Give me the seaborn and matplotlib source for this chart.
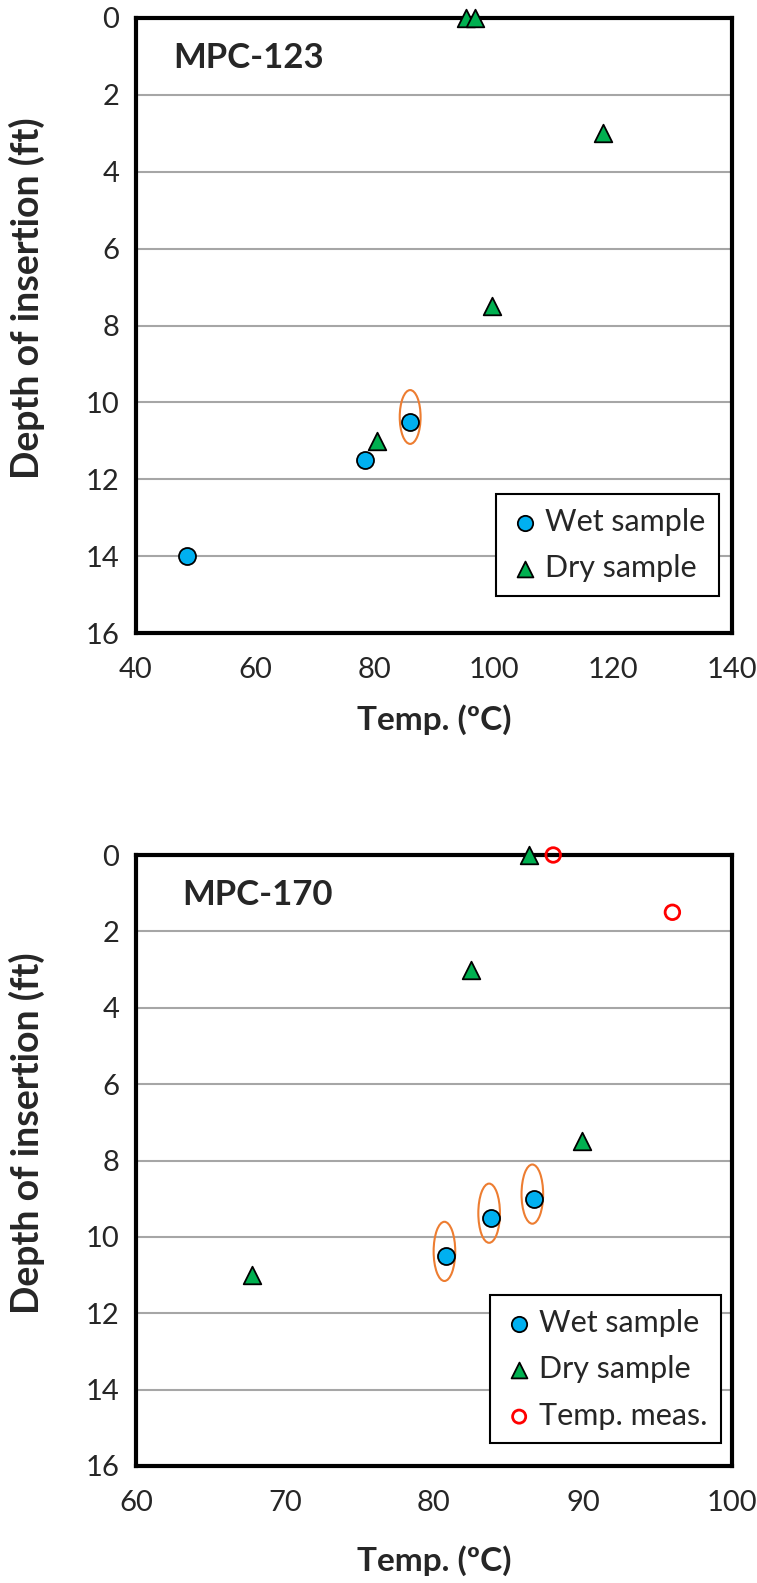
import matplotlib
matplotlib.use("Agg")
import matplotlib.pyplot as plt
from matplotlib.patches import Ellipse
import seaborn as sns
import pandas as pd

# ---- data ----
t1_wet_temp = [48.5, 78.5, 86.0]
t1_wet_depth = [14.0, 11.5, 10.5]
t1_dry_temp = [95.3, 96.8, 118.3, 99.8, 80.5]
t1_dry_depth = [0.0, 0.0, 3.0, 7.5, 11.0]
t1_circled = [2]  # index of circled wet points

t2_wet_temp = [80.8, 83.8, 86.7]
t2_wet_depth = [10.5, 9.5, 9.0]
t2_dry_temp = [86.4, 82.5, 89.9, 67.8]
t2_dry_depth = [0.0, 3.0, 7.5, 11.0]
t2_meas_temp = [88.0, 96.0]
t2_meas_depth = [0.0, 1.5]
t2_circled = [0, 1, 2]

titles = ["MPC-123", "MPC-170"]
xlims = [(40, 140), (60, 100)]
xticks = [[40, 60, 80, 100, 120, 140], [60, 70, 80, 90, 100]]
yticks = [0, 2, 4, 6, 8, 10, 12, 14, 16]

sns.set_theme(style="white")
plt.rcParams['font.family'] = ['Lato', 'DejaVu Sans']

W, H = 757, 1583
fig = plt.figure(figsize=(W / 100, H / 100), dpi=100)
ax1 = fig.add_axes([136 / W, 1 - 633 / H, 596 / W, 615 / H])
ax2 = fig.add_axes([136 / W, 1 - 1466 / H, 596 / W, 611 / H])

blue = "#00B0F0"
green = "#00B050"
orange = "#ED7D31"

title_pos = [(0.062, 0.935), (0.078, 0.935)]
xlabel_y = [-0.115, -0.13]
legend_anchor = [(0.978, 0.06), (0.982, 0.037)]
ellipse_size = [(3.5, 1.4), (1.45, 1.55)]

def style(ax, i):
    ax.set_xlim(*xlims[i])
    ax.set_ylim(16, 0)
    ax.set_xticks(xticks[i])
    ax.set_yticks(yticks)
    ax.grid(False)
    for y in yticks[1:-1]:
        ax.axhline(y, color="#a6a6a6", lw=1.5, zorder=0)
    for s in ax.spines.values():
        s.set_color("black")
        s.set_linewidth(3)
    ax.tick_params(axis="both", direction="in", length=7, width=2.5,
                   labelsize=21, color="black", pad=12)
    ax.tick_params(axis="x", pad=17)
    ax.set_xlabel("Temp. (ºC)", fontsize=24, fontweight="bold")
    ax.set_ylabel("Depth of insertion (ft)", fontsize=27, fontweight="bold")
    ax.xaxis.set_label_coords(0.5, xlabel_y[i])
    ax.yaxis.set_label_coords(-0.153, 0.545)
    ax.text(title_pos[i][0], title_pos[i][1], titles[i], transform=ax.transAxes,
            fontsize=25, fontweight="bold", va="center", ha="left")

# top panel
df1w = pd.DataFrame({"t": t1_wet_temp, "d": t1_wet_depth})
df1d = pd.DataFrame({"t": t1_dry_temp, "d": t1_dry_depth})
sns.scatterplot(data=df1w, x="t", y="d", ax=ax1, marker="o", s=150, color=blue,
                edgecolor="black", linewidth=1.3, label="Wet sample", clip_on=False, zorder=5)
sns.scatterplot(data=df1d, x="t", y="d", ax=ax1, marker="^", s=160, color=green,
                edgecolor="black", linewidth=1.3, label="Dry sample", clip_on=False, zorder=5)
for k in t1_circled:
    ax1.add_patch(Ellipse((t1_wet_temp[k], t1_wet_depth[k] - 0.12), *ellipse_size[0],
                          fill=False, edgecolor=orange, lw=1.5, zorder=4))
style(ax1, 0)

# bottom panel
df2w = pd.DataFrame({"t": t2_wet_temp, "d": t2_wet_depth})
df2d = pd.DataFrame({"t": t2_dry_temp, "d": t2_dry_depth})
df2m = pd.DataFrame({"t": t2_meas_temp, "d": t2_meas_depth})
sns.scatterplot(data=df2w, x="t", y="d", ax=ax2, marker="o", s=150, color=blue,
                edgecolor="black", linewidth=1.3, label="Wet sample", clip_on=False, zorder=5)
sns.scatterplot(data=df2d, x="t", y="d", ax=ax2, marker="^", s=160, color=green,
                edgecolor="black", linewidth=1.3, label="Dry sample", clip_on=False, zorder=5)
sns.scatterplot(data=df2m, x="t", y="d", ax=ax2, marker="o", s=110, facecolor="none",
                edgecolor="#FF0000", linewidth=2, label="Temp. meas.", clip_on=False, zorder=5)
for k in t2_circled:
    ax2.add_patch(Ellipse((t2_wet_temp[k] - 0.1, t2_wet_depth[k] - 0.12), *ellipse_size[1],
                          fill=False, edgecolor=orange, lw=1.5, zorder=4))
style(ax2, 1)

for i, ax in enumerate((ax1, ax2)):
    leg = ax.legend(loc="lower right", bbox_to_anchor=legend_anchor[i], fontsize=22,
                    frameon=True, fancybox=False, handletextpad=0.15,
                    borderpad=0.45, labelspacing=0.6, handlelength=1.0,
                    borderaxespad=0, markerscale=0.9)
    leg.get_frame().set_edgecolor("black")
    leg.get_frame().set_linewidth(1.5)
    leg.get_frame().set_alpha(1)
    leg.set_zorder(10)

fig.savefig("out.png", dpi=100)
